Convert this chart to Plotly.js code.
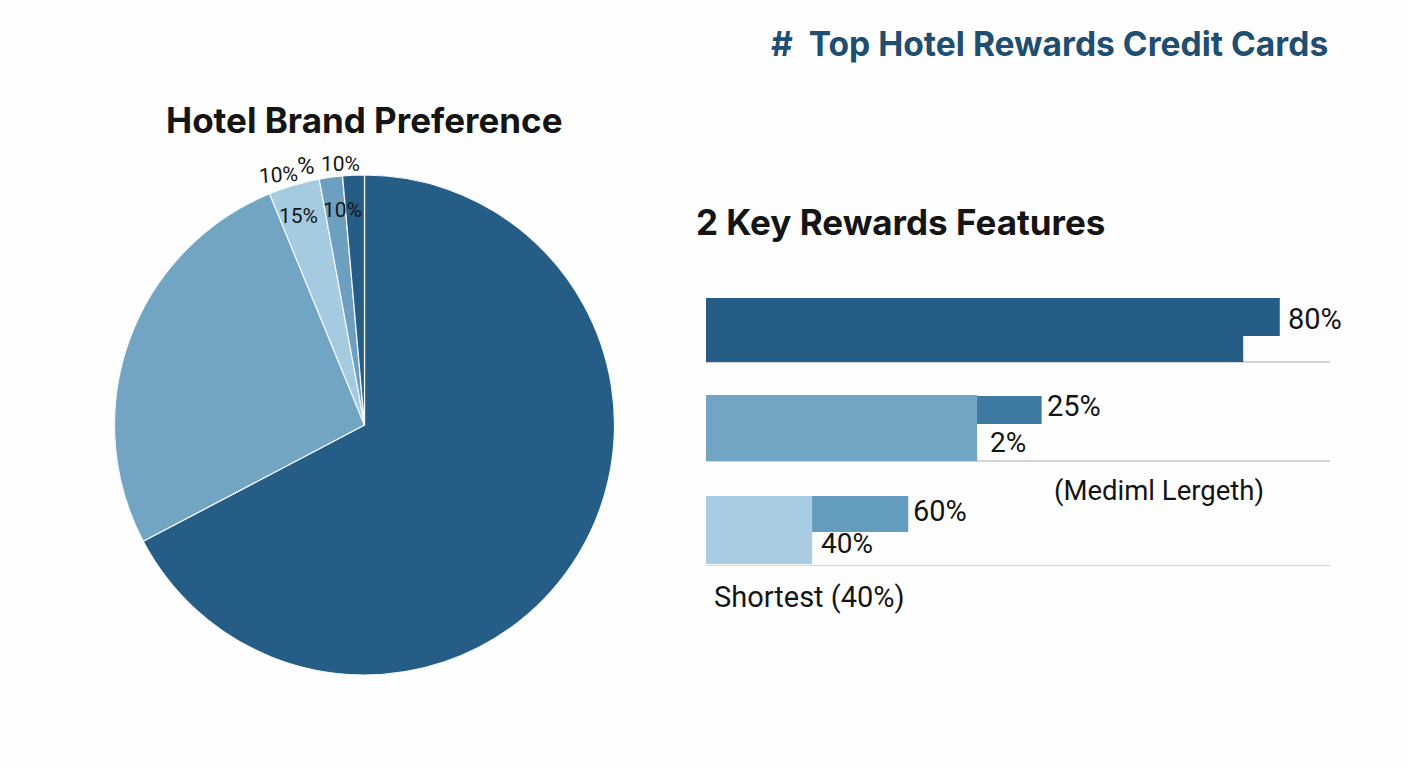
<!DOCTYPE html>
<html>
<head>
<meta charset="utf-8">
<title>Top Hotel Rewards Credit Cards</title>
<script src="https://cdn.plot.ly/plotly-3.0.1.min.js"></script>
<style>
  html, body { margin: 0; padding: 0; background: #fefefe; }
  #chart { width: 1408px; height: 768px; }
</style>
</head>
<body>
<div id="chart"></div>
<script>
// pie values (clockwise from 12 o'clock)
var brandNames = ["Brand A", "Brand B", "Brand C", "Brand D", "Brand E"];
var brandShares = [67.3, 26.5, 3.3, 1.5, 1.4];

// bar values in axis units
var featureRows = ["Longest", "Medium", "Shortest"];
var wideValues = [74.9, 37.8, 14.8];
var narrowValues = [80, 46.8, 28.2];
var narrowLabels = ["80%", "25%", "60%"];

var W = 1408, H = 768;
var inter = "Inter, Roboto, sans-serif";
var roboto = "Roboto, Inter, sans-serif";

// place a text by pixel position of the screenshot
function label(x, y, text, size, opts) {
  opts = opts || {};
  return {
    xref: "paper", yref: "paper",
    x: x / W, y: 1 - y / H,
    xanchor: opts.anchor || "center", yanchor: "middle",
    text: text, showarrow: false,
    textangle: opts.angle || 0,
    font: { family: opts.family || roboto, size: size, color: opts.color || "#151515", weight: opts.weight || 400 }
  };
}

var pie = {
  type: "pie",
  labels: brandNames,
  values: brandShares,
  sort: false,
  direction: "clockwise",
  rotation: 0,
  textinfo: "none",
  hoverinfo: "label+percent",
  domain: { x: [114.5 / W, 614.5 / W], y: [1 - 675 / H, 1 - 175 / H] },
  marker: {
    colors: ["#255d87", "#72a5c4", "#a5cbe0", "#6d9fc0", "#255d87"],
    line: { color: "#f4f8fb", width: 1.2 }
  },
  showlegend: false
};

// narrow bars sit behind the wide ones, only their ends show
var narrowBars = {
  type: "bar",
  orientation: "h",
  y: featureRows,
  x: narrowValues,
  width: [0.38, 0.28, 0.36],
  offset: [-0.32, -0.34, -0.34],
  marker: { color: ["#255d87", "#3f7aa3", "#659dbf"] },
  hoverinfo: "x",
  showlegend: false
};

var wideBars = {
  type: "bar",
  orientation: "h",
  y: featureRows,
  x: wideValues,
  width: [0.64, 0.66, 0.68],
  offset: [-0.32, -0.35, -0.34],
  marker: { color: ["#255d87", "#72a5c4", "#a8cde2"] },
  hoverinfo: "x",
  showlegend: false
};

var layout = {
  width: W,
  height: H,
  margin: { l: 0, r: 0, t: 0, b: 0 },
  paper_bgcolor: "#fefefe",
  plot_bgcolor: "rgba(0,0,0,0)",
  barmode: "overlay",
  xaxis: { domain: [706 / W, 1330 / W], range: [0, 87], visible: false },
  yaxis: {
    domain: [1 - 566 / H, 1 - 298 / H],
    type: "category",
    categoryorder: "array",
    categoryarray: featureRows,
    range: [2.36, -0.32],
    visible: false
  },
  shapes: [0.32, 1.31, 2.36].map(function (pos) {
    return {
      type: "line", layer: "below",
      xref: "x domain", yref: "y",
      x0: 0, x1: 1, y0: pos, y1: pos,
      line: { color: "#d2d5d8", width: 2 }
    };
  }),
  annotations: [
    label(1330, 43, "#&nbsp;&nbsp;Top Hotel Rewards Credit Cards", 33.6, { anchor: "right", family: inter, color: "#1f4e70", weight: 700 }),
    label(364, 120, "Hotel Brand Preference", 35, { family: inter, weight: 700 }),
    label(694, 222, "2 Key Rewards Features", 35, { anchor: "left", family: inter, weight: 700 }),
    label(278, 175, "10%", 21, { angle: -4 }),
    label(306, 166, "%", 24),
    label(340, 164, "10%", 21),
    label(298, 216, "15%", 21),
    label(342, 210, "10%", 21),
    label(1286, 319, narrowLabels[0], 29, { anchor: "left" }),
    label(1045, 406, narrowLabels[1], 29, { anchor: "left" }),
    label(911, 511, narrowLabels[2], 29, { anchor: "left" }),
    label(988, 442, "2%", 28, { anchor: "left" }),
    label(819, 543, "40%", 28, { anchor: "left" }),
    label(1052, 490, "(Mediml Lergeth)", 27.5, { anchor: "left" }),
    label(712, 597, "Shortest (40%)", 29, { anchor: "left" })
  ]
};

Plotly.newPlot("chart", [pie, narrowBars, wideBars], layout, { displayModeBar: false, staticPlot: true });
</script>
</body>
</html>
